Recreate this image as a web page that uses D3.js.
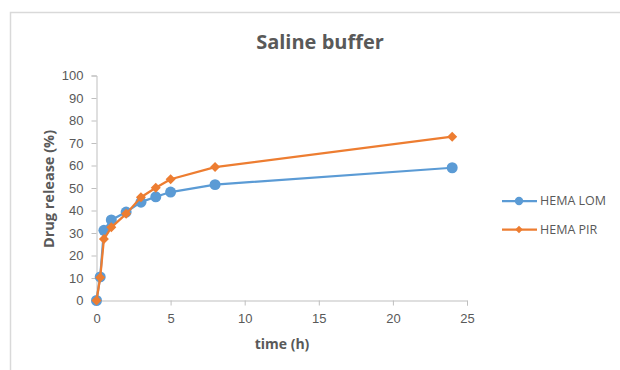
<!DOCTYPE html>
<html>
<head>
<meta charset="utf-8">
<script src="https://cdn.jsdelivr.net/npm/d3@7"></script>
<style>
  body { margin: 0; background: #fff; }
  svg { display: block; font-family: "Open Sans", Lato, sans-serif; }
</style>
</head>
<body>
<div id="chart"></div>
<script>
// data
const times = [0, 0.25, 0.5, 1, 2, 3, 4, 5, 8, 24];
const hemaLom = [0, 10.5, 31.2, 35.8, 39.3, 43.7, 46.1, 48.2, 51.5, 59.0];
const hemaPir = [0, 10.2, 27.3, 32.5, 38.5, 45.9, 50.1, 53.9, 59.3, 72.8];
const seriesNames = ["HEMA LOM", "HEMA PIR"];
const seriesColors = ["#5B9BD5", "#ED7D31"];
const xTicks = [0, 5, 10, 15, 20, 25];
const yTicks = [0, 10, 20, 30, 40, 50, 60, 70, 80, 90, 100];

const width = 620, height = 370;
const textColor = "#595959";
const axisColor = "#BFBFBF";

const svg = d3.select("#chart").append("svg")
    .attr("width", width)
    .attr("height", height);

// chart frame (cut off on the right and bottom)
svg.append("rect")
    .attr("x", 10.5).attr("y", 12.5)
    .attr("width", 640).attr("height", 400)
    .attr("fill", "#fff")
    .attr("stroke", "#D9D9D9")
    .attr("stroke-width", 1.5);

const x = d3.scaleLinear().domain([0, 25]).range([96.5, 467]);
const y = d3.scaleLinear().domain([0, 100]).range([300.5, 75.5]);

// y axis
const yAxis = svg.append("g")
    .attr("transform", `translate(${x(0)},0)`)
    .call(d3.axisLeft(y).tickValues(yTicks).tickSize(5).tickPadding(8));
// x axis
const xAxis = svg.append("g")
    .attr("transform", `translate(0,${y(0)})`)
    .call(d3.axisBottom(x).tickValues(xTicks).tickSize(5).tickPadding(8));

[xAxis, yAxis].forEach(a => {
    a.select(".domain").attr("stroke", axisColor).attr("stroke-width", 1);
    a.selectAll(".tick line").attr("stroke", axisColor);
    a.selectAll(".tick text")
        .attr("fill", textColor)
        .style("font-size", "13px");
});

const series = [hemaLom, hemaPir].map((vals, i) => ({
    name: seriesNames[i],
    color: seriesColors[i],
    points: times.map((t, j) => ({t: t, v: vals[j]}))
}));

const line = d3.line()
    .x(d => x(d.t))
    .y(d => y(d.v));

function marker(i, big) {
    if (i === 0) {
        return d3.symbol().type(d3.symbolCircle).size(big ? 95 : 55)();
    }
    return d3.symbol().type(d3.symbolSquare).size(big ? 50 : 28)();
}

series.forEach((s, i) => {
    const g = svg.append("g");
    g.append("path")
        .datum(s.points)
        .attr("d", line)
        .attr("fill", "none")
        .attr("stroke", s.color)
        .attr("stroke-width", 2.25)
        .attr("stroke-linejoin", "round");
    g.selectAll("path.mark")
        .data(s.points)
        .enter()
        .append("path")
        .attr("class", "mark")
        .attr("transform", d => `translate(${x(d.t)},${y(d.v)})` + (i === 1 ? " rotate(45)" : ""))
        .attr("d", marker(i, true))
        .attr("fill", s.color);
});

// legend
const legend = svg.append("g");
series.forEach((s, i) => {
    const ly = 201 + i * 28.5;
    legend.append("line")
        .attr("x1", 502).attr("x2", 537)
        .attr("y1", ly).attr("y2", ly)
        .attr("stroke", s.color)
        .attr("stroke-width", 2.25);
    legend.append("path")
        .attr("transform", `translate(519,${ly})` + (i === 1 ? " rotate(45)" : ""))
        .attr("d", marker(i, false))
        .attr("fill", s.color);
    legend.append("text")
        .attr("x", 540)
        .attr("y", ly)
        .attr("dy", "0.35em")
        .attr("fill", textColor)
        .style("font-size", "12.5px")
        .text(s.name);
});

// title
svg.append("text")
    .attr("x", 320)
    .attr("y", 49)
    .attr("text-anchor", "middle")
    .attr("fill", textColor)
    .style("font-size", "20px")
    .style("font-weight", "bold")
    .text("Saline buffer");

// axis titles
svg.append("text")
    .attr("x", 282)
    .attr("y", 349)
    .attr("text-anchor", "middle")
    .attr("fill", textColor)
    .style("font-size", "14px")
    .style("font-weight", "bold")
    .text("time (h)");

svg.append("text")
    .attr("transform", "translate(54,189) rotate(-90)")
    .attr("text-anchor", "middle")
    .attr("fill", textColor)
    .style("font-size", "14.5px")
    .style("font-weight", "bold")
    .text("Drug release (%)");
</script>
</body>
</html>
